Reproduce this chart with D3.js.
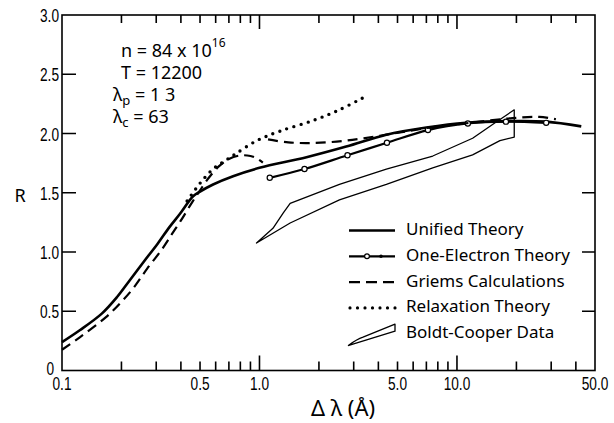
<!DOCTYPE html>
<html>
<head>
<meta charset="utf-8">
<script src="https://cdn.jsdelivr.net/npm/d3@7"></script>
<style>
  body { margin: 0; background: #fff; }
  .tick-label { font-family: "Liberation Sans", Arial, sans-serif; font-size: 19px; }
  .txt { font-family: "Noto Sans", "DejaVu Sans", sans-serif; }
</style>
</head>
<body>
<script>
// values: [delta lambda (A), R]
const unified = [
  [0.1, 0.24], [0.123, 0.34], [0.159, 0.48], [0.19, 0.62], [0.22, 0.76], [0.26, 0.92],
  [0.305, 1.07], [0.35, 1.21], [0.395, 1.32], [0.461, 1.47], [0.5, 1.51], [0.582, 1.57],
  [0.735, 1.64], [1.0, 1.71], [1.73, 1.80], [2.75, 1.89], [4.39, 1.99], [7.0, 2.05],
  [11.1, 2.09], [19.1, 2.105], [28.3, 2.10], [42.6, 2.06]
];
const oneElectron = [
  [1.127, 1.626], [1.69, 1.70], [2.79, 1.817], [4.42, 1.922], [7.13, 2.029],
  [11.35, 2.085], [17.7, 2.10], [28.3, 2.09]
];
const griemsLow = [
  [0.1, 0.175], [0.123, 0.28], [0.167, 0.45], [0.2, 0.58], [0.231, 0.70], [0.27, 0.86],
  [0.32, 1.02], [0.36, 1.15], [0.398, 1.26], [0.46, 1.43], [0.5, 1.52], [0.55, 1.62],
  [0.62, 1.72], [0.7, 1.785], [0.8, 1.815], [0.9, 1.81], [0.97, 1.79], [1.04, 1.755]
];
const griemsHigh = [
  [1.105, 1.95], [1.4, 1.925], [1.87, 1.92], [2.75, 1.94], [4.39, 1.99], [7.28, 2.05],
  [11.6, 2.09], [19.1, 2.13], [26.1, 2.14], [31.7, 2.12]
];
const relaxation = [
  [0.43, 1.43], [0.5, 1.58], [0.582, 1.70], [0.67, 1.77], [0.76, 1.83], [0.97, 1.94],
  [1.27, 2.02], [1.87, 2.11], [2.54, 2.20], [3.33, 2.30]
];
const boldtCooper = [
  [0.966, 1.076], [1.43, 1.245], [2.54, 1.44], [4.39, 1.57], [7.54, 1.71], [12.0, 1.82],
  [16.5, 1.94], [19.5, 1.97], [19.5, 2.20], [15.6, 2.09], [12.0, 1.96], [7.54, 1.81],
  [4.39, 1.70], [2.54, 1.57], [1.43, 1.41], [1.32, 1.33], [1.17, 1.20]
];

const xMinorTicks = [0.2, 0.3, 0.4, 0.5, 0.6, 0.7, 0.8, 0.9, 1, 2, 3, 4, 5, 6, 7, 8, 9, 10, 20, 30, 40];
const xMajorTicks = [1, 10];
const xLabelValues = [0.1, 0.5, 1, 5, 10, 50];
const xLabels = ["0.1", "0.5", "1.0", "5.0", "10.0", "50.0"];
const yTickValues = [0.5, 1, 1.5, 2, 2.5];
const yLabelValues = [0, 0.5, 1, 1.5, 2, 2.5, 3];
const yLabels = ["0", "0.5", "1.0", "1.5", "2.0", "2.5", "3.0"];

const legendItems = ["Unified Theory", "One-Electron Theory", "Griems Calculations", "Relaxation Theory", "Boldt-Cooper Data"];

const W = 614, H = 423;
const x = d3.scaleLog().domain([0.1, 50]).range([62, 595]);
const y = d3.scaleLinear().domain([0, 3]).range([370.5, 15]);

const svg = d3.select("body").append("svg")
    .attr("width", W)
    .attr("height", H);

function tickLen(d) { return xMajorTicks.indexOf(d) >= 0 ? 15 : 9; }

// inward ticks on all four sides, as one path built from the scales
function tickPath() {
  const p = d3.path();
  xMinorTicks.forEach(function (d) {
    p.moveTo(x(d), y(0)); p.lineTo(x(d), y(0) - tickLen(d));
    p.moveTo(x(d), y(3)); p.lineTo(x(d), y(3) + tickLen(d) - 1);
  });
  yTickValues.forEach(function (d) {
    p.moveTo(x(0.1), y(d)); p.lineTo(x(0.1) + 14, y(d));
    p.moveTo(x(50), y(d)); p.lineTo(x(50) - 13, y(d));
  });
  return p.toString();
}

// frame
svg.append("rect")
    .attr("x", x(0.1)).attr("y", y(3))
    .attr("width", x(50) - x(0.1)).attr("height", y(0) - y(3))
    .attr("fill", "none").attr("stroke", "#000").attr("stroke-width", 1.6);

// condensed tick labels
svg.append("g").selectAll("text").data(xLabelValues).enter().append("text")
    .attr("class", "tick-label")
    .attr("transform", d => "translate(" + x(d) + ",390) scale(0.72,1)")
    .attr("text-anchor", "middle")
    .text((d, i) => xLabels[i]);

svg.append("g").selectAll("text").data(yLabelValues).enter().append("text")
    .attr("class", "tick-label")
    .attr("transform", d => d === 0
        ? "translate(54," + (y(d) + 4) + ") scale(0.72,1)"
        : "translate(59," + (y(d) + 7) + ") scale(0.72,1)")
    .attr("text-anchor", "end")
    .text((d, i) => yLabels[i]);

// axis titles
svg.append("text").attr("class", "txt")
    .attr("x", 20).attr("y", 202).attr("text-anchor", "middle")
    .attr("font-size", 18).text("R");
svg.append("text").attr("class", "txt")
    .attr("x", 343).attr("y", 416).attr("text-anchor", "middle")
    .attr("font-size", 22).text("Δ λ (Å)");

// parameters block
const ann = svg.append("g").attr("class", "txt").attr("font-size", 18);
const t1 = ann.append("text").attr("x", 121).attr("y", 57);
t1.append("tspan").text("n = 84 x 10");
t1.append("tspan").attr("font-size", 12).attr("dy", -10).text("16");
ann.append("text").attr("x", 121).attr("y", 79).text("T = 12200");
const t3 = ann.append("text").attr("x", 113).attr("y", 101);
t3.append("tspan").text("λ");
t3.append("tspan").attr("font-size", 13).attr("dy", 4).text("p");
t3.append("tspan").attr("dy", -4).text(" = 1 3");
const t4 = ann.append("text").attr("x", 113).attr("y", 123);
t4.append("tspan").text("λ");
t4.append("tspan").attr("font-size", 13).attr("dy", 4).text("c");
t4.append("tspan").attr("dy", -4).text(" = 63");

// curves
const smooth = d3.line().x(d => x(d[0])).y(d => y(d[1])).curve(d3.curveCatmullRom.alpha(0.5));
const straight = d3.line().x(d => x(d[0])).y(d => y(d[1]));

svg.append("path").datum(boldtCooper)
    .attr("d", d => straight(d) + "Z")
    .attr("fill", "none").attr("stroke", "#000").attr("stroke-width", 1.3)
    .attr("stroke-linejoin", "round");

svg.append("path").datum(unified)
    .attr("d", smooth)
    .attr("fill", "none").attr("stroke", "#000").attr("stroke-width", 2.6);

svg.append("path").datum(oneElectron)
    .attr("d", smooth)
    .attr("fill", "none").attr("stroke", "#000").attr("stroke-width", 2.2);
svg.append("g").selectAll("circle").data(oneElectron).enter().append("circle")
    .attr("cx", d => x(d[0])).attr("cy", d => y(d[1])).attr("r", 2.6)
    .attr("fill", "#fff").attr("stroke", "#000").attr("stroke-width", 1.2);

[griemsLow, griemsHigh].forEach(function (s) {
  svg.append("path").datum(s)
      .attr("d", smooth)
      .attr("fill", "none").attr("stroke", "#000").attr("stroke-width", 2.2)
      .attr("stroke-dasharray", "10,6");
});

svg.append("path").datum(relaxation)
    .attr("d", smooth)
    .attr("fill", "none").attr("stroke", "#000").attr("stroke-width", 3.4)
    .attr("stroke-linecap", "round")
    .attr("stroke-dasharray", "0,7.4");

// legend
const leg = svg.append("g");
const lx0 = 349, lx1 = 395, ltx = 406, ly0 = 235, ldy = 25.8;
legendItems.forEach(function (name, i) {
  const by = ly0 + i * ldy, my = by - 4.5;
  leg.append("text").attr("class", "txt").attr("font-size", 17)
      .attr("x", ltx).attr("y", by).text(name);
  if (i === 0) {
    leg.append("line").attr("x1", lx0).attr("x2", lx1).attr("y1", my).attr("y2", my)
        .attr("stroke", "#000").attr("stroke-width", 2.4);
  } else if (i === 1) {
    leg.append("line").attr("x1", lx0).attr("x2", lx1).attr("y1", my).attr("y2", my)
        .attr("stroke", "#000").attr("stroke-width", 2.2);
    leg.append("circle").attr("cx", 367).attr("cy", my).attr("r", 2.4)
        .attr("fill", "#fff").attr("stroke", "#000").attr("stroke-width", 1.2);
    leg.append("circle").attr("cx", 381).attr("cy", my).attr("r", 1.8).attr("fill", "#000");
  } else if (i === 2) {
    leg.append("line").attr("x1", lx0).attr("x2", lx1).attr("y1", my).attr("y2", my)
        .attr("stroke", "#000").attr("stroke-width", 2.2).attr("stroke-dasharray", "11,6");
  } else if (i === 3) {
    leg.append("line").attr("x1", lx0 + 1).attr("x2", lx1 + 1).attr("y1", my).attr("y2", my)
        .attr("stroke", "#000").attr("stroke-width", 3.2).attr("stroke-linecap", "round")
        .attr("stroke-dasharray", "0,7.5");
  } else {
    leg.append("path")
        .attr("d", "M" + (lx0 - 1) + "," + (by + 7.5) + " L" + lx1 + "," + (by - 7) +
              " L" + lx1 + "," + (by - 14) + " L" + (lx0 + 14) + "," + (by - 1) +
              " Q" + (lx0 + 8) + "," + (by + 1) + " " + (lx0 - 1) + "," + (by + 7.5))
        .attr("fill", "none").attr("stroke", "#000").attr("stroke-width", 1.3)
        .attr("stroke-linejoin", "round");
  }
});

// ticks drawn last, on top of everything
svg.append("path")
    .attr("d", tickPath())
    .attr("fill", "none").attr("stroke", "#000").attr("stroke-width", 1.6);
</script>
</body>
</html>
